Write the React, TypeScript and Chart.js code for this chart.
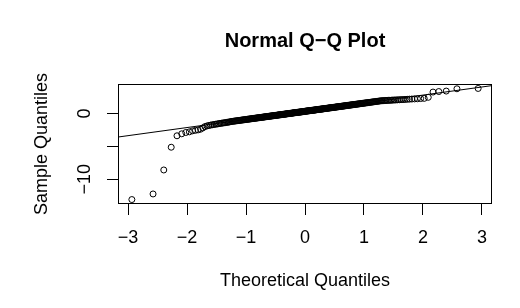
import React, { useEffect, useRef } from "react";
import { Chart, registerables } from "chart.js";

Chart.register(...registerables);

const FONT = '"Liberation Sans", Arial, Helvetica, sans-serif';

const TITLE = "Normal Q\u2212Q Plot";
const X_TITLE = "Theoretical Quantiles";
const Y_TITLE = "Sample Quantiles";

const X_TICKS = [-3, -2, -1, 0, 1, 2, 3];
const X_TICK_LABELS = ["\u22123", "\u22122", "\u22121", "0", "1", "2", "3"];
const Y_TICKS = [-10, -5, 0];
const Y_TICK_LABELS = ["\u221210", "", "0"];

// sample values (sorted)
const SAMPLE_LOW = [
  -13.1, -12.25, -8.6, -5.14, -3.4, -3.1, -2.9, -2.8, -2.65, -2.57,
  -2.5, -2.4, -2.2, -2.0, -1.9, -1.83, -1.77, -1.72, -1.68, -1.64,
  -1.6, -1.56, -1.52, -1.49, -1.46, -1.43, -1.4, -1.37, -1.34, -1.31,
  -1.28,
];
const SAMPLE_MID_LOW = [
  -1.24, -1.21, -1.19, -1.17, -1.15, -1.13, -1.11, -1.09, -1.07, -1.05,
  -1.03, -1.01, -0.99, -0.98, -0.96, -0.94, -0.92, -0.91, -0.89, -0.87,
  -0.86, -0.84, -0.82, -0.81, -0.79, -0.78, -0.76, -0.75, -0.73, -0.72,
  -0.7, -0.69, -0.67, -0.66, -0.65, -0.63, -0.62, -0.6, -0.59, -0.58,
  -0.56, -0.55, -0.54, -0.52, -0.51, -0.5, -0.48, -0.47, -0.46, -0.45,
  -0.43, -0.42, -0.41, -0.4, -0.38, -0.37, -0.36, -0.35, -0.34, -0.32,
  -0.31, -0.3, -0.29, -0.28, -0.27, -0.25, -0.24, -0.23, -0.22, -0.21,
  -0.2, -0.19, -0.18, -0.16, -0.15, -0.14, -0.13, -0.12, -0.11, -0.1,
  -0.09, -0.08, -0.06, -0.05, -0.04, -0.03, -0.02, -0.01, 0.0, 0.01,
  0.02, 0.03, 0.04, 0.05, 0.07, 0.08, 0.09, 0.1, 0.11, 0.12,
  0.13, 0.14, 0.15, 0.16, 0.17, 0.18, 0.19, 0.2, 0.21, 0.22,
  0.23, 0.24, 0.25, 0.26, 0.27, 0.28, 0.29, 0.3, 0.32,
];
const SAMPLE_MID_HIGH = [
  0.33, 0.34, 0.35, 0.36, 0.37, 0.38, 0.39, 0.4, 0.41, 0.42,
  0.43, 0.44, 0.45, 0.46, 0.47, 0.48, 0.49, 0.5, 0.51, 0.52,
  0.53, 0.54, 0.55, 0.57, 0.58, 0.59, 0.6, 0.61, 0.62, 0.63,
  0.64, 0.65, 0.66, 0.67, 0.68, 0.69, 0.7, 0.72, 0.73, 0.74,
  0.75, 0.76, 0.77, 0.78, 0.79, 0.8, 0.82, 0.83, 0.84, 0.85,
  0.86, 0.87, 0.88, 0.89, 0.91, 0.92, 0.93, 0.94, 0.95, 0.96,
  0.98, 0.99, 1.0, 1.01, 1.02, 1.04, 1.05, 1.06, 1.07, 1.09,
  1.1, 1.11, 1.12, 1.14, 1.15, 1.16, 1.18, 1.19, 1.2, 1.22,
  1.23, 1.24, 1.26, 1.27, 1.29, 1.3, 1.31, 1.33, 1.34, 1.36,
  1.37, 1.39, 1.4, 1.42, 1.43, 1.45, 1.46, 1.48, 1.5, 1.51,
  1.53, 1.55, 1.56, 1.58, 1.6, 1.62, 1.63, 1.65, 1.67, 1.69,
  1.71, 1.73, 1.75, 1.77, 1.79, 1.81, 1.83, 1.85, 1.88, 1.9,
  1.92,
];
const SAMPLE_HIGH = [
  1.94, 1.95, 1.96, 1.97, 1.98, 1.99, 2.0, 2.01, 2.03, 2.04,
  2.05, 2.07, 2.08, 2.1, 2.11, 2.13, 2.15, 2.17, 2.19, 2.21,
  2.23, 2.26, 2.29, 2.45, 3.25, 3.33, 3.4, 3.75, 3.8,
];

// inverse standard normal CDF (Acklam)
function qnorm(p: number): number {
  const a = [-3.969683028665376e1, 2.209460984245205e2, -2.759285104469687e2, 1.38357751867269e2, -3.066479806614716e1, 2.506628277459239];
  const b = [-5.447609879822406e1, 1.615858368580409e2, -1.556989798598866e2, 6.680131188771972e1, -1.328068155288572e1];
  const c = [-7.784894002430293e-3, -3.223964580411365e-1, -2.400758277161838, -2.549732539343734, 4.374664141464968, 2.938163982698783];
  const d = [7.784695709041462e-3, 3.224671290700398e-1, 2.445134137142996, 3.754408661907416];
  const pl = 0.02425;
  if (p < pl) {
    const q = Math.sqrt(-2 * Math.log(p));
    return (((((c[0] * q + c[1]) * q + c[2]) * q + c[3]) * q + c[4]) * q + c[5]) / ((((d[0] * q + d[1]) * q + d[2]) * q + d[3]) * q + 1);
  }
  if (p <= 1 - pl) {
    const q = p - 0.5;
    const r = q * q;
    return ((((((a[0] * r + a[1]) * r + a[2]) * r + a[3]) * r + a[4]) * r + a[5]) * q) / (((((b[0] * r + b[1]) * r + b[2]) * r + b[3]) * r + b[4]) * r + 1);
  }
  const q = Math.sqrt(-2 * Math.log(1 - p));
  return -(((((c[0] * q + c[1]) * q + c[2]) * q + c[3]) * q + c[4]) * q + c[5]) / ((((d[0] * q + d[1]) * q + d[2]) * q + d[3]) * q + 1);
}

function quantile7(sorted: number[], prob: number): number {
  const h = (sorted.length - 1) * prob;
  const lo = Math.floor(h);
  const hi = Math.min(lo + 1, sorted.length - 1);
  return sorted[lo] + (h - lo) * (sorted[hi] - sorted[lo]);
}

export default function App() {
  const ref = useRef<HTMLCanvasElement | null>(null);

  useEffect(() => {
    if (!ref.current) return;
    const sample = [...SAMPLE_LOW, ...SAMPLE_MID_LOW, ...SAMPLE_MID_HIGH, ...SAMPLE_HIGH].sort((u, v) => u - v);
    const n = sample.length;
    const aa = n <= 10 ? 3 / 8 : 0.5;
    const points = sample.map((y, i) => ({ x: qnorm((i + 1 - aa) / (n + 1 - 2 * aa)), y }));

    // qqline through the quartiles
    const y1 = quantile7(sample, 0.25);
    const y2 = quantile7(sample, 0.75);
    const x1 = qnorm(0.25);
    const x2 = qnorm(0.75);
    const slope = (y2 - y1) / (x2 - x1);
    const intercept = y1 - slope * x1;

    const xs = points.map((p) => p.x);
    const xmn = Math.min(...xs), xmx = Math.max(...xs);
    const ymn = sample[0], ymx = sample[n - 1];
    const xpad = (xmx - xmn) * 0.04, ypad = (ymx - ymn) * 0.04;
    const xMin = xmn - xpad, xMax = xmx + xpad;
    const yMin = ymn - ypad, yMax = ymx + ypad;

    const lineData = [
      { x: xMin - 1, y: intercept + slope * (xMin - 1) },
      { x: xMax + 1, y: intercept + slope * (xMax + 1) },
    ];

    const decor = {
      id: "decor",
      beforeDraw(chart: any) {
        const ctx = chart.ctx;
        ctx.save();
        ctx.fillStyle = "#ffffff";
        ctx.fillRect(0, 0, chart.width, chart.height);
        ctx.restore();
      },
      afterDraw(chart: any) {
        const { ctx, chartArea: a, scales } = chart;
        ctx.save();
        ctx.strokeStyle = "#000";
        ctx.lineWidth = 1;
        const l = Math.round(a.left), r = Math.round(a.right), t = Math.round(a.top), b = Math.round(a.bottom);
        ctx.strokeRect(l + 0.5, t + 0.5, r - l - 1, b - t - 1);
        ctx.fillStyle = "#000";
        ctx.font = `bold 20px ${FONT}`;
        ctx.textAlign = "center";
        ctx.textBaseline = "alphabetic";
        ctx.fillText(TITLE, (a.left + a.right) / 2, 47);
        ctx.font = `18px ${FONT}`;
        Y_TICKS.forEach((v, i) => {
          const lab = Y_TICK_LABELS[i];
          if (!lab) return;
          const py = scales.y.getPixelForValue(v);
          ctx.save();
          ctx.translate(a.left - 28.5, py);
          ctx.rotate(-Math.PI / 2);
          ctx.fillText(lab, 0, 0);
          ctx.restore();
        });
        ctx.restore();
      },
    };

    const chart = new Chart(ref.current, {
      type: "scatter",
      data: {
        datasets: [
          {
            type: "scatter",
            data: points,
            pointRadius: 3,
            pointHoverRadius: 3,
            pointBorderWidth: 1,
            borderColor: "#000",
            backgroundColor: "rgba(0,0,0,0)",
            pointStyle: "circle",
          } as any,
          {
            type: "line",
            data: lineData,
            borderColor: "#000",
            borderWidth: 1,
            pointRadius: 0,
            fill: false,
          } as any,
        ],
      },
      options: {
        animation: false,
        responsive: false,
        events: [],
        layout: { padding: { left: 0, right: 28, top: 84, bottom: 0 } },
        plugins: {
          legend: { display: false },
          tooltip: { enabled: false },
          title: { display: false },
        },
        scales: {
          x: {
            type: "linear",
            min: xMin,
            max: xMax,
            afterBuildTicks: (s: any) => {
              s.ticks = X_TICKS.map((v) => ({ value: v }));
            },
            afterFit: (s: any) => {
              s.height = 104;
            },
            ticks: {
              autoSkip: false,
              maxRotation: 0,
              minRotation: 0,
              padding: 12,
              color: "#000",
              font: { family: FONT, size: 18 },
              callback: (_v: any, i: number) => X_TICK_LABELS[i],
            },
            grid: { drawOnChartArea: false, drawTicks: true, tickLength: 11, color: "#000", lineWidth: 1 },
            border: { display: false },
            title: {
              display: true,
              text: X_TITLE,
              color: "#000",
              font: { family: FONT, size: 18 },
              padding: { top: 0, bottom: 16.3 },
            },
          },
          y: {
            type: "linear",
            min: yMin,
            max: yMax,
            afterBuildTicks: (s: any) => {
              s.ticks = Y_TICKS.map((v) => ({ value: v }));
            },
            afterFit: (s: any) => {
              s.width = 118;
            },
            ticks: { display: false },
            grid: { drawOnChartArea: false, drawTicks: true, tickLength: 11, color: "#000", lineWidth: 1 },
            border: { display: false },
            title: {
              display: true,
              text: Y_TITLE,
              color: "#000",
              font: { family: FONT, size: 18 },
              padding: { top: 30.9, bottom: 0 },
            },
          },
        },
      } as any,
      plugins: [decor],
    });
    return () => chart.destroy();
  }, []);

  return (
    <div style={{ position: "fixed", left: 0, top: 0, width: 520, height: 308, background: "#fff" }}>
      <canvas ref={ref} width={520} height={308} style={{ width: 520, height: 308, display: "block" }} />
    </div>
  );
}
